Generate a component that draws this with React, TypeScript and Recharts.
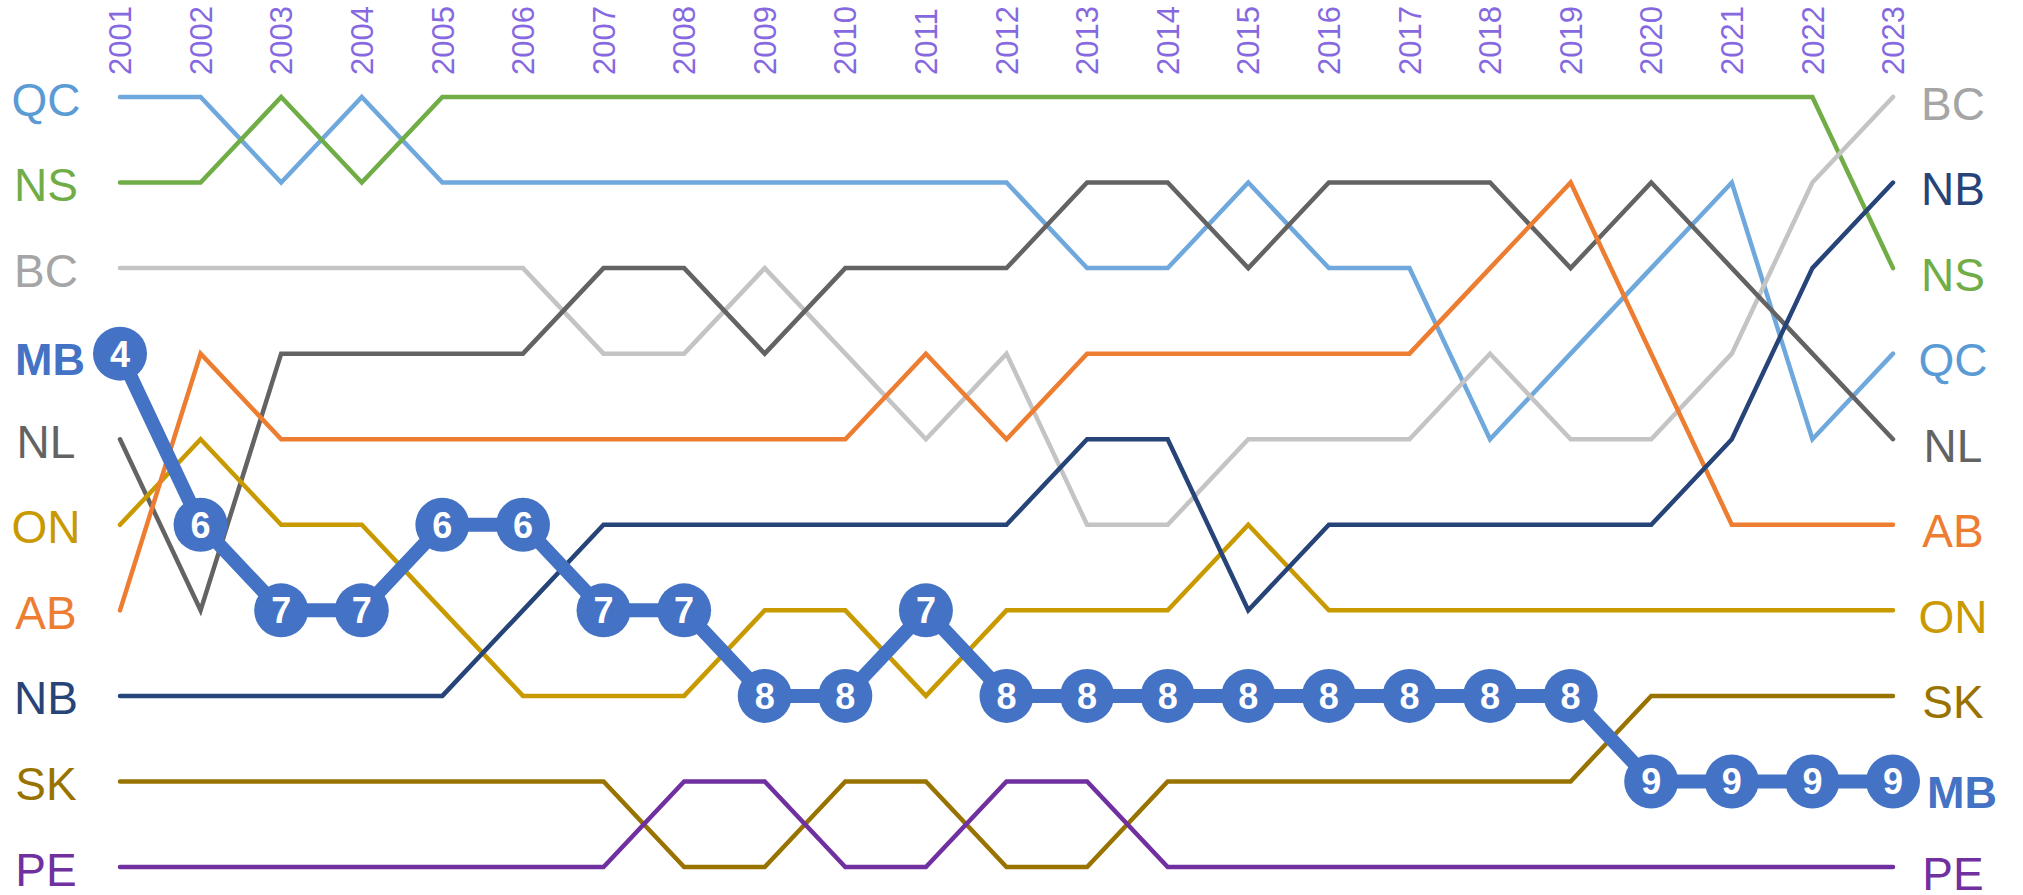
import { LineChart, Line, XAxis, YAxis } from 'recharts'

const years = ['2001', '2002', '2003', '2004', '2005', '2006', '2007', '2008', '2009', '2010', '2011', '2012',
  '2013', '2014', '2015', '2016', '2017', '2018', '2019', '2020', '2021', '2022', '2023']

// rank of each province per year (1 = top)
const QC = [1, 1, 2, 1, 2, 2, 2, 2, 2, 2, 2, 2, 3, 3, 2, 3, 3, 5, 4, 3, 2, 5, 4]
const NS = [2, 2, 1, 2, 1, 1, 1, 1, 1, 1, 1, 1, 1, 1, 1, 1, 1, 1, 1, 1, 1, 1, 3]
const BC = [3, 3, 3, 3, 3, 3, 4, 4, 3, 4, 5, 4, 6, 6, 5, 5, 5, 4, 5, 5, 4, 2, 1]
const MB = [4, 6, 7, 7, 6, 6, 7, 7, 8, 8, 7, 8, 8, 8, 8, 8, 8, 8, 8, 9, 9, 9, 9]
const NL = [5, 7, 4, 4, 4, 4, 3, 3, 4, 3, 3, 3, 2, 2, 3, 2, 2, 2, 3, 2, 3, 4, 5]
const ON = [6, 5, 6, 6, 7, 8, 8, 8, 7, 7, 8, 7, 7, 7, 6, 7, 7, 7, 7, 7, 7, 7, 7]
const AB = [7, 4, 5, 5, 5, 5, 5, 5, 5, 5, 4, 5, 4, 4, 4, 4, 4, 3, 2, 4, 6, 6, 6]
const NB = [8, 8, 8, 8, 8, 7, 6, 6, 6, 6, 6, 6, 5, 5, 7, 6, 6, 6, 6, 6, 5, 3, 2]
const SK = [9, 9, 9, 9, 9, 9, 9, 10, 10, 9, 9, 10, 10, 9, 9, 9, 9, 9, 9, 8, 8, 8, 8]
const PE = [10, 10, 10, 10, 10, 10, 10, 9, 9, 10, 10, 9, 9, 10, 10, 10, 10, 10, 10, 10, 10, 10, 10]

const provinces = ['QC', 'NS', 'BC', 'NL', 'ON', 'AB', 'NB', 'SK', 'PE', 'MB']
const ranks: Record<string, number[]> = { QC, NS, BC, MB, NL, ON, AB, NB, SK, PE }

const lineColors: Record<string, string> = {
  QC: '#6FA8DC', NS: '#70AD47', BC: '#C4C4C4', MB: '#4472C4', NL: '#636363',
  ON: '#C99A00', AB: '#ED7D31', NB: '#264478', SK: '#997300', PE: '#7030A0',
}
const labelColors: Record<string, string> = { ...lineColors, BC: '#A5A5A5', QC: '#5B9BD5' }

const FONT = '"Liberation Sans", Arial, sans-serif'
const LAST = years.length - 1

const data = years.map((year, i) => {
  const row: Record<string, string | number> = { year }
  for (const p of provinces) row[p] = ranks[p][i]
  return row
})

function YearTick(props: any) {
  const { x, payload } = props
  return (
    <text x={x} y={75} transform={`rotate(-90 ${x} 75)`} dy="0.36em" textAnchor="start"
      fill="#8669E0" fontSize={31} style={{ fontSize: 31, fontFamily: FONT }}>
      {payload.value}
    </text>
  )
}

const endLabels = (name: string) => (props: any) => {
  const { cx, cy, index } = props
  if (index !== 0 && index !== LAST) return <g key={`d-${name}-${index}`} />
  const first = index === 0
  return (
    <text key={`d-${name}-${index}`} x={cx + (first ? -74 : 60)} y={cy + (first ? 2 : 6) + 46 * 0.36}
      textAnchor="middle" fill={labelColors[name]} style={{ fontSize: 46, fontFamily: FONT }}>
      {name}
    </text>
  )
}

function MbDot(props: any) {
  const { cx, cy, index, value } = props
  return (
    <g key={`mb-${index}`}>
      <circle cx={cx} cy={cy} r={27} fill={lineColors.MB} />
      <text x={cx} y={cy + 36 * 0.36} textAnchor="middle" fill="#fff"
        style={{ fontSize: 36, fontWeight: 'bold', fontFamily: FONT }}>
        {value}
      </text>
      {index === 0 && (
        <text x={cx - 70} y={cy + 5 + 45 * 0.36} textAnchor="middle" fill={lineColors.MB}
          style={{ fontSize: 45, fontWeight: 'bold', fontFamily: FONT }}>MB</text>
      )}
      {index === LAST && (
        <text x={cx + 34} y={cy + 10 + 45 * 0.36} textAnchor="start" fill={lineColors.MB}
          style={{ fontSize: 45, fontWeight: 'bold', fontFamily: FONT }}>MB</text>
      )}
    </g>
  )
}

export default function App() {
  return (
    <div style={{ width: 2023, height: 895 }}>
      <style>{'body { margin: 0; overflow: hidden; } svg { overflow: visible; }'}</style>
      <LineChart width={2023} height={895} data={data} margin={{ top: 0, right: 130, bottom: 28, left: 120 }}>
        <XAxis dataKey="year" orientation="top" height={97} axisLine={false} tickLine={false}
          interval={0} tick={<YearTick />} padding={{ left: 0, right: 0 }} />
        <YAxis hide domain={[1, 10]} reversed type="number" />
        {provinces.map((p) => p === 'MB' ? (
          <Line key={p} dataKey={p} type="linear" stroke={lineColors[p]} strokeWidth={14}
            strokeLinecap="round" dot={MbDot} activeDot={false} isAnimationActive={false} />
        ) : (
          <Line key={p} dataKey={p} type="linear" stroke={lineColors[p]} strokeWidth={4.5}
            strokeLinecap="round" dot={endLabels(p)} activeDot={false} isAnimationActive={false} />
        ))}
      </LineChart>
    </div>
  )
}
